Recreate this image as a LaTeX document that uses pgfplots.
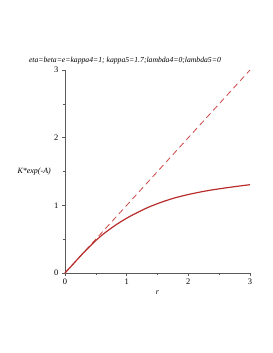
\documentclass[border=0pt]{standalone}
\usepackage{pgfplots}
\pgfplotsset{compat=1.18}
\usepackage{fontspec}
\setmainfont{Liberation Serif}
\definecolor{mred}{RGB}{185,45,45}
\definecolor{dred}{RGB}{205,70,70}
\definecolor{axgray}{RGB}{90,90,90}
\begin{document}
\begin{tikzpicture}
\path[use as bounding box, fill=white] (-65bp,-80bp) rectangle (208bp,273bp);
\begin{axis}[
  at={(0,0)}, anchor=south west,
  scale only axis, width=185bp, height=203bp,
  xmin=0, xmax=3, ymin=0, ymax=3,
  axis lines=left,
  axis line style={axgray, line width=0.8pt, -},
  xtick={0,1,2,3}, ytick={0,1,2,3},
  minor xtick={0.5,1.5,2.5}, minor ytick={0.5,1.5,2.5},
  tick style={axgray, line width=0.6pt},
  major tick length=3bp, minor tick length=2bp,
  tick align=outside,
  /pgf/number format/assume math mode=true,
  tick label style={font=\fontsize{8.5}{10}\selectfont},
  xticklabel style={yshift=1bp},
  xlabel={\itshape r},
  ylabel={\itshape K*exp(-A)},
  every axis x label/.style={at={(rel axis cs:0.5,0)}, anchor=north, yshift=-14bp, font=\fontsize{8}{9}\selectfont},
  every axis y label/.style={at={(rel axis cs:0,0.5)}, anchor=east, xshift=-14bp, inner sep=0pt, font=\fontsize{8}{9}\selectfont},
  title={\itshape eta=beta=e=kappa4=1; kappa5=1.7;lambda4=0;lambda5=0},
  every axis title/.style={at={(rel axis cs:0.324,1)}, anchor=south, yshift=2bp, font=\fontsize{7.7}{9}\selectfont},
  clip=false,
]
\addplot[dred, line width=0.8pt, dash pattern=on 6bp off 4bp] coordinates {(0,0) (3,3)};
\addplot[mred, line width=1.2pt, smooth] coordinates {
(0,0) (0.1,0.1) (0.2,0.2) (0.3,0.3) (0.4,0.39) (0.5,0.48) (0.6,0.56) (0.7,0.63)
(0.8,0.695) (0.9,0.755) (1.0,0.81) (1.1,0.86) (1.2,0.905) (1.3,0.95) (1.4,0.99)
(1.5,1.025) (1.6,1.058) (1.7,1.088) (1.8,1.115) (1.9,1.138) (2.0,1.16) (2.2,1.198)
(2.4,1.23) (2.6,1.257) (2.8,1.282) (3.0,1.305)};
\end{axis}
\end{tikzpicture}
\end{document}
